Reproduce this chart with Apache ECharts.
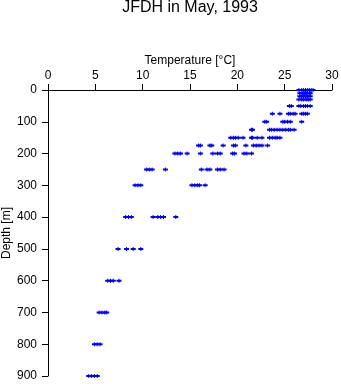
<!DOCTYPE html>
<html>
<head>
<meta charset="utf-8">
<script src="https://cdn.jsdelivr.net/npm/echarts@6/dist/echarts.min.js"></script>
<style>
html,body{margin:0;padding:0;background:#fff;}
#c{width:341px;height:384px;}
</style>
</head>
<body>
<div id="c"></div>
<script>
// Depth levels [m]
const depths = [0, 10, 20, 30, 50, 75, 100, 125, 150, 175, 200, 250, 300, 400, 500, 600, 700, 800, 900];
// Temperatures [°C] observed at each depth level
const t0   = [26.5, 26.8, 27.0, 27.2, 27.4, 27.6, 27.8, 28.0];
const t10  = [26.6, 26.9, 27.1, 27.3, 27.6, 27.7];
const t20  = [26.6, 26.8, 27.0, 27.2, 27.4, 27.7];
const t30  = [26.5, 26.8, 27.0, 27.3, 27.5, 27.7];
const t50  = [25.5, 25.7, 26.5, 26.7, 27.0, 27.2, 27.4, 27.7];
const t75  = [23.7, 24.5, 25.4, 25.6, 25.9, 26.1, 26.8, 27.0, 27.2, 27.4];
const t100 = [22.9, 23.1, 24.8, 25.0, 25.3, 25.6, 26.8];
const t125 = [21.5, 21.6, 23.4, 23.6, 23.9, 24.2, 24.5, 24.8, 25.1, 25.4, 25.6, 26.0];
const t150 = [19.3, 19.6, 19.8, 20.1, 20.6, 21.5, 21.6, 22.1, 22.6, 23.4, 23.7, 24.0, 24.2, 24.5];
const t175 = [15.9, 16.1, 17.1, 17.3, 18.5, 19.6, 19.8, 20.9, 21.7, 22.0, 22.3, 22.6, 23.2];
const t200 = [13.4, 13.7, 14.0, 14.7, 16.1, 17.4, 17.9, 18.2, 19.5, 19.7, 20.7, 21.0, 21.5];
const t250 = [10.4, 10.7, 11.0, 12.4, 16.2, 16.8, 17.1, 17.9, 18.2, 18.6];
const t300 = [9.2, 9.5, 9.8, 15.2, 15.5, 15.8, 16.0, 16.6];
const t400 = [8.2, 8.5, 8.8, 11.1, 11.6, 11.9, 12.2, 13.5];
const t500 = [7.4, 8.3, 9.0, 9.8];
const t600 = [6.3, 6.6, 6.9, 7.5];
const t700 = [5.4, 5.7, 6.0, 6.2];
const t800 = [4.9, 5.2, 5.5];
const t900 = [4.3, 4.6, 4.9, 5.2];
const tempsByDepth = [t0, t10, t20, t30, t50, t75, t100, t125, t150, t175, t200, t250, t300, t400, t500, t600, t700, t800, t900];

const points = [];
depths.forEach((d, i) => { tempsByDepth[i].forEach(t => points.push([t, d])); });

const font = 'Liberation Sans, Arial, Helvetica, sans-serif';
const chart = echarts.init(document.getElementById('c'), null, {renderer: 'canvas'});
chart.setOption({
  animation: false,
  backgroundColor: '#fff',
  title: {
    text: 'JFDH in May, 1993',
    left: 190, top: 0, padding: 0, textAlign: 'center',
    textStyle: {fontFamily: font, fontSize: 16, fontWeight: 'normal', color: '#000'}
  },
  grid: {left: 48, top: 90, width: 284, height: 286, containLabel: false, outerBoundsMode: 'none'},
  xAxis: {
    type: 'value', position: 'top', min: 0, max: 30, interval: 5,
    name: 'Temperature [°C]', nameLocation: 'middle', nameGap: 23, nameMoveOverlap: false,
    nameTextStyle: {fontFamily: font, fontSize: 12, color: '#000'},
    axisLine: {show: true, lineStyle: {color: '#000', width: 1}},
    axisTick: {show: true, length: 6, lineStyle: {color: '#000'}},
    axisLabel: {fontFamily: font, fontSize: 12, color: '#000', margin: 8},
    splitLine: {show: false}
  },
  yAxis: {
    type: 'value', inverse: true, min: 0, max: 900, interval: 100,
    name: 'Depth [m]', nameLocation: 'middle', nameGap: 35, nameMoveOverlap: false,
    nameTextStyle: {fontFamily: font, fontSize: 12, color: '#000'},
    axisLine: {show: true, lineStyle: {color: '#000', width: 1}},
    axisTick: {show: true, length: 6, lineStyle: {color: '#000'}},
    axisLabel: {fontFamily: font, fontSize: 12, color: '#000', margin: 11},
    splitLine: {show: false}
  },
  series: [{
    type: 'scatter',
    data: points,
    symbol: 'path://M0,1H5V3H0Z M2,0H3V4H2Z',
    symbolSize: [5, 4],
    itemStyle: {color: '#0000ff', opacity: 1},
    silent: true
  }]
});
</script>
</body>
</html>
